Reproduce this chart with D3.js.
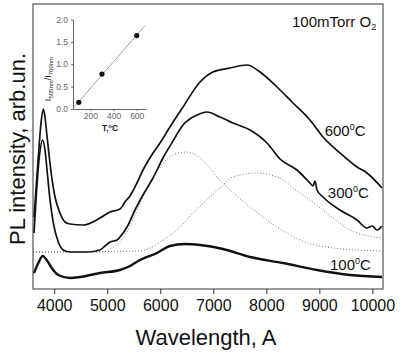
<!DOCTYPE html>
<html>
<head>
<meta charset="utf-8">
<script src="https://cdn.jsdelivr.net/npm/d3@7"></script>
<style>
  html, body { margin: 0; padding: 0; background: #fff; }
  svg { display: block; font-family: 'Liberation Sans', Arial, sans-serif; }
</style>
</head>
<body>
<div id="chart"></div>
<script>
// PL spectra, wavelength in A, intensity in arb. units
const wl600 = [3619, 3700, 3751, 3794, 3826, 3858, 3907, 3953, 4015, 4109, 4203, 4298, 4543, 4863, 5052, 5241, 5300, 5335, 5429, 5561, 5674, 5863, 6033, 6146, 6429, 6749, 6994, 7315, 7635, 7881, 8201, 8503, 8823, 9069, 9389, 9710, 9898, 10181]
const int600 = [72, 132, 166, 180, 172, 156, 132, 112, 92, 76, 67, 65, 64, 71, 77, 80, 84, 87, 93, 106, 119, 136, 149, 159, 182, 207, 217, 221, 224, 217, 202, 186, 169, 152, 136, 122, 116, 101]

const wl300 = [3619, 3719, 3783, 3826, 3870, 3921, 3983, 4077, 4171, 4298, 4618, 4863, 4958, 5052, 5184, 5241, 5373, 5523, 5674, 5863, 6051, 6240, 6429, 6693, 6881, 7126, 7371, 7692, 8013, 8258, 8578, 8823, 8880, 8918, 8955, 9069, 9389, 9710, 9898, 9993, 10087, 10181]
const int300 = [56, 132, 149, 139, 116, 89, 66, 47, 39, 37, 37, 39, 43, 47, 49, 52, 62, 79, 94, 111, 131, 148, 164, 174, 177, 172, 166, 159, 146, 130, 119, 106, 103, 108, 99, 92, 79, 69, 61, 63, 59, 63]

const wl100 = [3619, 3700, 3783, 3858, 3953, 4077, 4298, 4486, 4863, 5241, 5429, 5618, 5938, 6183, 6466, 6749, 7183, 7692, 8314, 8955, 9578, 10181]
const int100 = [16, 26, 33, 29, 21, 14, 11, 12, 16, 19, 23, 29, 36, 43, 45, 44, 40, 32, 26, 19, 14, 12]

// fitted components of the 300C spectrum (dotted)
const wlFit1 = [3600, 4863, 5146, 5335, 5523, 5712, 5901, 6089, 6278, 6504, 6749, 6938, 7070, 7258, 7692, 8201, 8635, 9257, 10181]
const intFit1 = [37, 37, 43, 54, 74, 96, 114, 128, 135, 137, 131, 121, 112, 102, 82, 62, 49, 41, 38]
const wlFit2 = [3600, 5618, 5806, 6051, 6316, 6617, 6938, 7126, 7371, 7824, 8201, 8635, 9144, 9578, 10181]
const intFit2 = [37, 38, 41, 49, 59, 76, 92, 101, 112, 116, 112, 96, 76, 59, 51]

const xTicks = [4000, 5000, 6000, 7000, 8000, 9000, 10000]

// inset: intensity ratio vs temperature
const insetT = [100, 300, 600]
const insetRatio = [0.15, 0.78, 1.64]
const insetFitT = [55, 670]
const insetFitV = [0.03, 1.86]
const insetXTicks = [200, 400, 600]
const insetYTicks = [0, 0.5, 1.0, 1.5, 2.0]

const width = 400
const height = 354
const plot = { left: 33, right: 383, top: 4, bottom: 289 }

const svg = d3.select('#chart')
  .append('svg')
  .attr('width', width)
  .attr('height', height)

const x = d3.scaleLinear().domain([3600, 10200]).range([plot.left, plot.right])
const y = d3.scaleLinear().domain([0, 285]).range([plot.bottom, plot.top])

const line = d3.line()
  .x(d => x(d[0]))
  .y(d => y(d[1]))
  .curve(d3.curveMonotoneX)

function pairs(a, b) {
  return a.map((v, i) => [v, b[i]])
}

// dotted components
svg.append('path')
  .datum(pairs(wlFit1, intFit1))
  .attr('d', line)
  .attr('fill', 'none')
  .attr('stroke', '#777')
  .attr('stroke-width', 1)
  .attr('stroke-dasharray', '1,2')

svg.append('path')
  .datum(pairs(wlFit2, intFit2))
  .attr('d', line)
  .attr('fill', 'none')
  .attr('stroke', '#777')
  .attr('stroke-width', 1)
  .attr('stroke-dasharray', '1,2')

// spectra
const spectra = [
  { wl: wl600, v: int600, w: 1.7 },
  { wl: wl300, v: int300, w: 1.7 },
  { wl: wl100, v: int100, w: 2.4 }
]
spectra.forEach(s => {
  svg.append('path')
    .datum(pairs(s.wl, s.v))
    .attr('d', line)
    .attr('fill', 'none')
    .attr('stroke', '#111')
    .attr('stroke-width', s.w)
    .attr('stroke-linejoin', 'round')
})

// frame
svg.append('rect')
  .attr('x', plot.left)
  .attr('y', plot.top)
  .attr('width', plot.right - plot.left)
  .attr('height', plot.bottom - plot.top)
  .attr('fill', 'none')
  .attr('stroke', '#333')
  .attr('stroke-width', 1)

// x axis
const xAxis = d3.axisBottom(x).tickValues(xTicks).tickSize(5).tickSizeOuter(0).tickPadding(6)
  .tickFormat(d => '' + d)
const xg = svg.append('g')
  .attr('transform', `translate(0, ${plot.bottom})`)
  .call(xAxis)
xg.select('.domain').remove()
xg.selectAll('line').attr('stroke', '#333')
xg.selectAll('text')
  .style('font-size', '16px')
  .style('font-family', "'Liberation Sans', Arial, sans-serif")
  .attr('fill', '#111')

svg.append('text')
  .attr('x', (plot.left + plot.right) / 2 - 2)
  .attr('y', 345)
  .attr('text-anchor', 'middle')
  .style('font-size', '22px')
  .attr('fill', '#111')
  .text('Wavelength, A')

svg.append('text')
  .attr('transform', `translate(25, 149) rotate(-90)`)
  .attr('text-anchor', 'middle')
  .style('font-size', '22px')
  .attr('fill', '#111')
  .text('PL intensity, arb.un.')

// title
const title = svg.append('text')
  .attr('x', 292)
  .attr('y', 27)
  .style('font-size', '15px')
  .attr('fill', '#111')
title.append('tspan').text('100mTorr O')
title.append('tspan').attr('dy', 3).style('font-size', '9px').text('2')

// curve labels
const curveLabels = [
  { t: '600', wl: 9100, v: 153 },
  { t: '300', wl: 9160, v: 91 },
  { t: '100', wl: 9200, v: 19 }
]
curveLabels.forEach(c => {
  const tx = svg.append('text')
    .attr('x', x(c.wl))
    .attr('y', y(c.v))
    .style('font-size', '15px')
    .attr('fill', '#111')
  tx.append('tspan').text(c.t)
  tx.append('tspan').attr('dy', -6).style('font-size', '9px').text('0')
  tx.append('tspan').attr('dy', 6).text('C')
})

// inset
const ix = d3.scaleLinear().domain([50, 680]).range([73, 146])
const iy = d3.scaleLinear().domain([0, 2]).range([109, 19.5])
const inset = svg.append('g')

const iyAxis = d3.axisLeft(iy).tickValues(insetYTicks).tickSize(2).tickSizeOuter(0).tickPadding(3)
  .tickFormat(d3.format('.1f'))
const iyg = inset.append('g').attr('transform', 'translate(73, 0)').call(iyAxis)
const ixAxis = d3.axisBottom(ix).tickValues(insetXTicks).tickSize(2).tickSizeOuter(0).tickPadding(2)
const ixg = inset.append('g').attr('transform', 'translate(0, 109)').call(ixAxis)
;[iyg, ixg].forEach(g => {
  g.select('.domain').attr('stroke', '#666')
  g.selectAll('line').attr('stroke', '#666')
  g.selectAll('text')
    .style('font-size', '8.5px')
    .style('font-family', "'Liberation Sans', Arial, sans-serif")
    .attr('fill', '#666')
})

inset.append('line')
  .attr('x1', ix(insetFitT[0]))
  .attr('y1', iy(insetFitV[0]))
  .attr('x2', ix(insetFitT[1]))
  .attr('y2', iy(insetFitV[1]))
  .attr('stroke', '#888')
  .attr('stroke-width', 0.8)

inset.selectAll('circle')
  .data(insetT)
  .enter()
  .append('circle')
  .attr('cx', d => ix(d))
  .attr('cy', (d, i) => iy(insetRatio[i]))
  .attr('r', 2.6)
  .attr('fill', '#111')

const itx = inset.append('text')
  .attr('x', 110)
  .attr('y', 131)
  .attr('text-anchor', 'middle')
  .style('font-size', '8.5px')
  .style('font-weight', 'bold')
  .attr('fill', '#222')
itx.append('tspan').text('T,')
itx.append('tspan').attr('dy', -3).style('font-size', '5.5px').text('o')
itx.append('tspan').attr('dy', 3).text('C')

const ity = inset.append('text')
  .attr('transform', 'translate(51, 79) rotate(-90)')
  .attr('text-anchor', 'middle')
  .style('font-size', '9px')
  .attr('fill', '#222')
ity.append('tspan').text('I')
ity.append('tspan').attr('dy', 2).style('font-size', '6px').text('505nm')
ity.append('tspan').attr('dy', -2).text('/I')
ity.append('tspan').attr('dy', 2).style('font-size', '6px').text('700nm')
</script>
</body>
</html>
